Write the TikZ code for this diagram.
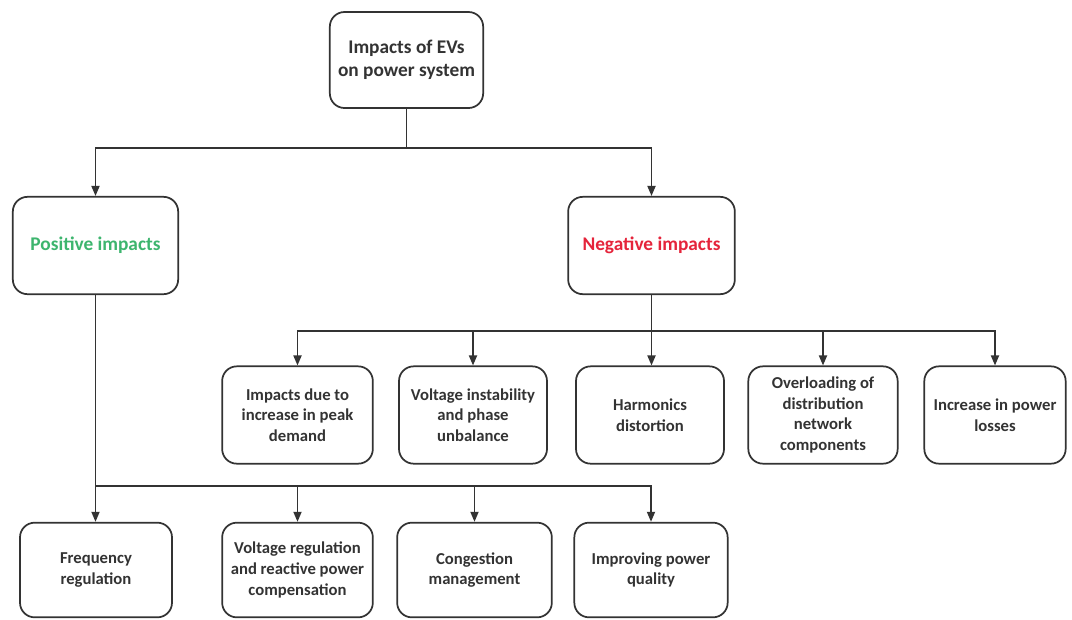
\documentclass[tikz,border=0pt]{standalone}
\usepackage{fontspec}
\setmainfont{Carlito}
\usepackage{tikz}
\usetikzlibrary{arrows.meta,positioning,calc}

\definecolor{linegray}{HTML}{333333}
\definecolor{posgreen}{HTML}{3DB56E}
\definecolor{negred}{HTML}{E5243B}

\tikzset{
  impbox/.style={draw=linegray, line width=1.3pt, rounded corners=11pt, fill=white,
    align=center, text=linegray, inner sep=2pt,
    font=\bfseries\fontsize{12.5}{15.5}\selectfont},
  headbox/.style={impbox, font=\bfseries\fontsize{14.5}{17}\selectfont},
  link/.style={draw=linegray, line width=1.3pt},
  arr/.style={link, -{Triangle[length=7.5pt,width=6pt]}}
}

\begin{document}
\begin{tikzpicture}[x=0.75pt,y=-0.75pt]
  \useasboundingbox (0,0) rectangle (1072,619); % 図全体の大きさ
  \node[headbox, minimum width=115pt, minimum height=72pt] (root) at (406.5,60) {Impacts of EVs\\on power system}; % 一番上の箱
  \node[headbox, minimum width=124pt, minimum height=73pt, text=posgreen] (pos) at (95.5,245.5) {Positive impacts}; % 左の箱（正の影響）
  \node[headbox, minimum width=125pt, minimum height=73pt, text=negred] (neg) at (651.5,245.5) {Negative impacts}; % 右の箱（負の影響）
  \node[impbox, minimum width=113pt, minimum height=73pt] (neg1) at (297.5,415) {Impacts due to\\increase in peak\\demand}; % 負の影響 その1
  \node[impbox, minimum width=111pt, minimum height=73pt] (neg2) at (473,415) {Voltage instability\\and phase\\unbalance}; % 負の影響 その2
  \node[impbox, minimum width=111pt, minimum height=73pt] (neg3) at (650,415) {Harmonics\\distortion}; % 負の影響 その3
  \node[impbox, minimum width=112pt, minimum height=73pt] (neg4) at (823,415) {Overloading of\\distribution\\network\\components}; % 負の影響 その4
  \node[impbox, minimum width=106pt, minimum height=73pt] (neg5) at (995,415) {Increase in power\\losses}; % 負の影響 その5
  \node[impbox, minimum width=114pt, minimum height=71pt] (pos1) at (96,570) {Frequency\\regulation}; % 正の影響 その1
  \node[impbox, minimum width=113pt, minimum height=71pt] (pos2) at (297.5,570) {Voltage regulation\\and reactive power\\compensation}; % 正の影響 その2
  \node[impbox, minimum width=116pt, minimum height=71pt] (pos3) at (474.5,570) {Congestion\\management}; % 正の影響 その3
  \node[impbox, minimum width=115pt, minimum height=71pt] (pos4) at (651,570) {Improving power\\quality}; % 正の影響 その4

  \coordinate (rootbus) at (root.south |- 0,148); % 一番上の分岐点
  \coordinate (negbus) at (neg.south |- 0,331); % 負の影響の分岐点
  \coordinate (posbus) at (pos.south |- 0,486); % 正の影響の分岐点

  \draw[link] (root.south) -- (rootbus); % 上の箱から分岐点へ
  \draw[arr] (rootbus) -| (pos.north); % 左へ
  \draw[arr] (rootbus) -| (neg.north); % 右へ

  \draw[link] (neg.south) -- (negbus); % 負の影響から下へ
  \draw[arr] (negbus) -| (neg1.north);
  \draw[arr] (negbus) -| (neg2.north);
  \draw[arr] (negbus) -- (negbus |- neg3.north);
  \draw[arr] (negbus) -| (neg4.north);
  \draw[arr] (negbus) -| (neg5.north);

  \draw[link] (pos.south) -- (posbus); % 正の影響から下へ
  \draw[arr] (posbus) -- (posbus |- pos1.north);
  \draw[arr] (posbus) -| (pos2.north);
  \draw[arr] (posbus) -| (pos3.north);
  \draw[arr] (posbus) -| (pos4.north);
\end{tikzpicture}
\end{document}
